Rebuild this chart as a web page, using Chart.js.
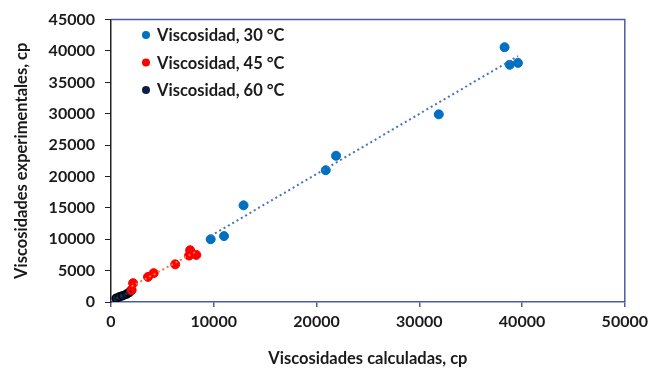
<!DOCTYPE html>
<html>
<head>
<meta charset="utf-8">
<script src="https://cdn.jsdelivr.net/npm/chart.js@4/dist/chart.umd.min.js"></script>
<style>
  html, body { margin: 0; padding: 0; background: #fff; }
  #wrap { width: 653px; height: 373px; position: relative; }
</style>
</head>
<body>
<div id="wrap"><canvas id="visc-chart" width="653" height="373"></canvas></div>
<script>
// values
const seriesLabels = ['Viscosidad, 30 °C', 'Viscosidad, 45 °C', 'Viscosidad, 60 °C'];
const calc30 = [9700, 11000, 12900, 20900, 21900, 31900, 38300, 38800, 39600];
const exp30 = [10000, 10500, 15400, 21000, 23300, 29900, 40600, 37800, 38100];
const calc45 = [2000, 2150, 3600, 4150, 6250, 7600, 7700, 8300];
const exp45 = [1900, 3000, 4000, 4600, 6000, 7400, 8250, 7500];
const calc60 = [500, 850, 1150, 1500, 1750, 2000];
const exp60 = [600, 850, 1000, 1250, 1500, 1900];
const xTicks = [0, 10000, 20000, 30000, 40000, 50000];
const yTicks = [0, 5000, 10000, 15000, 20000, 25000, 30000, 35000, 40000, 45000];

const FONT = 'Lato, "Open Sans", sans-serif';

function pts(xs, ys) {
  return xs.map((x, i) => ({ x: x, y: ys[i] }));
}

// linear trendline through the series, drawn between its min and max x
function trend(xs, ys) {
  const n = xs.length;
  const mx = xs.reduce((a, b) => a + b, 0) / n;
  const my = ys.reduce((a, b) => a + b, 0) / n;
  let sxy = 0, sxx = 0;
  for (let i = 0; i < n; i++) {
    sxy += (xs[i] - mx) * (ys[i] - my);
    sxx += (xs[i] - mx) * (xs[i] - mx);
  }
  const m = sxy / sxx, b = my - m * mx;
  const x0 = Math.min(...xs), x1 = Math.max(...xs);
  return [{ x: x0, y: m * x0 + b }, { x: x1, y: m * x1 + b }];
}

const trendStyle = (color) => ({
  type: 'line',
  borderColor: color,
  borderWidth: 2,
  borderDash: [2, 3],
  pointRadius: 0,
  fill: false,
  showLine: true,
});

const colors = ['#0070C0', '#FF0000', '#0B1F45'];

// frame on top/right + legend inside the plot
const framePlugin = {
  id: 'frame',
  afterDraw(chart) {
    const { ctx, chartArea: a } = chart;
    ctx.save();
    ctx.strokeStyle = '#4A5E9C';
    ctx.lineWidth = 1.5;
    ctx.beginPath();
    ctx.moveTo(a.left, a.top);
    ctx.lineTo(a.right, a.top);
    ctx.lineTo(a.right, a.bottom);
    ctx.stroke();
    ctx.font = 'bold 16.5px ' + FONT;
    ctx.textBaseline = 'middle';
    seriesLabels.forEach((lbl, i) => {
      const y = 35 + i * 27.5;
      ctx.beginPath();
      ctx.arc(146, y, 4, 0, Math.PI * 2);
      ctx.fillStyle = colors[i];
      ctx.fill();
      ctx.fillStyle = '#1a1a1a';
      ctx.fillText(lbl, 157, y + 1);
    });
    ctx.restore();
  }
};

const canvas = document.getElementById('visc-chart');
new Chart(canvas.getContext('2d'), {
  type: 'scatter',
  data: {
    datasets: [
      Object.assign({ data: trend(calc30, exp30) }, trendStyle('#4472C4')),
      Object.assign({ data: trend(calc45, exp45) }, trendStyle('#ED7D31')),
      Object.assign({ data: trend(calc60, exp60) }, trendStyle('#1F3864')),
      {
        label: seriesLabels[0],
        data: pts(calc30, exp30),
        backgroundColor: colors[0],
        borderColor: colors[0],
        pointRadius: 4.5,
      },
      {
        label: seriesLabels[1],
        data: pts(calc45, exp45),
        backgroundColor: colors[1],
        borderColor: colors[1],
        pointRadius: 4.5,
      },
      {
        label: seriesLabels[2],
        data: pts(calc60, exp60),
        backgroundColor: colors[2],
        borderColor: '#000',
        borderWidth: 1.5,
        pointRadius: 4,
      },
    ]
  },
  options: {
    responsive: false,
    animation: false,
    devicePixelRatio: 1,
    layout: { padding: { top: 15, right: 23, left: 0, bottom: 0 } },
    plugins: { legend: { display: false }, tooltip: { enabled: false } },
    scales: {
      x: {
        type: 'linear',
        min: 0, max: 50000,
        afterBuildTicks(scale) { scale.ticks = xTicks.map(v => ({ value: v })); },
        afterFit(scale) { scale.height = 71; },
        grid: { drawOnChartArea: false, drawTicks: true, tickLength: 5, color: '#4A5E9C', lineWidth: 1.5 },
        border: { color: '#4A5E9C', width: 1.5 },
        ticks: { color: '#1a1a1a', font: { family: FONT, size: 16, weight: 'bold' }, padding: 5, maxRotation: 0,
                 callback: (v) => String(v) },
        title: { display: true, text: 'Viscosidades calculadas, cp', color: '#1a1a1a',
                 font: { family: FONT, size: 16.5, weight: 'bold' }, padding: { top: 10 } },
      },
      y: {
        type: 'linear',
        min: 0, max: 45000,
        afterBuildTicks(scale) { scale.ticks = yTicks.map(v => ({ value: v })); },
        afterFit(scale) { scale.width = 111; },
        grid: { drawOnChartArea: false, drawTicks: true, tickLength: 6, color: '#222', lineWidth: 1 },
        border: { color: '#222', width: 1.5 },
        ticks: { color: '#1a1a1a', font: { family: FONT, size: 16, weight: 'bold' }, padding: 10,
                 callback: (v) => String(v) },
        title: { display: true, text: 'Viscosidades experimentales, cp', color: '#1a1a1a',
                 font: { family: FONT, size: 16.5, weight: 'bold' }, padding: { top: 12, bottom: 4 } },
      }
    }
  },
  plugins: [framePlugin]
});
</script>
</body>
</html>
